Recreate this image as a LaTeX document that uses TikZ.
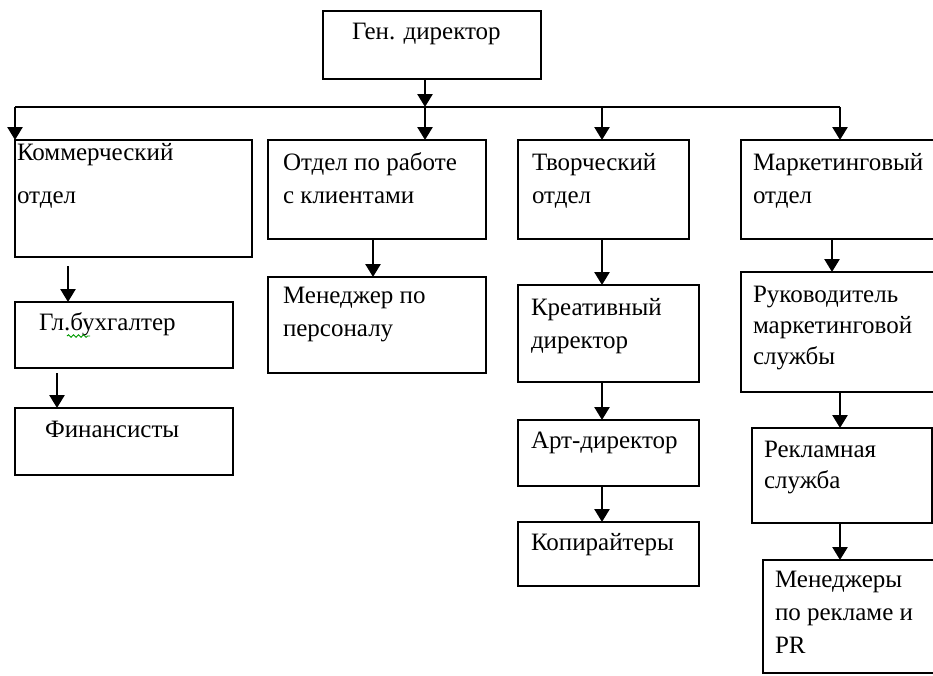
\documentclass[tikz,border=0pt]{standalone}
\usepackage{fontspec}
\setmainfont{Liberation Serif}
\usetikzlibrary{arrows.meta,decorations.pathmorphing}
\begin{document}
\begin{tikzpicture}[x=1pt,y=-1pt,
  box/.style={draw, line width=2.9pt, inner sep=0pt, outer sep=0pt, anchor=north west},
  txt/.style={inner sep=0pt, outer sep=0pt, anchor=north west, align=left, font=\fontsize{25}{33}\selectfont},
  txtn/.style={txt, font=\fontsize{25}{31}\selectfont},
  txtw/.style={txt, font=\fontsize{25}{43}\selectfont},
  conn/.style={line width=2.6pt, -{Triangle[width=15pt,length=13pt]}},
  bar/.style={line width=2.3pt}
]
\path[use as bounding box] (0,0) rectangle (933,675);
\clip (0,0) rectangle (933,675);

% boxes
\node[box, minimum width=218pt, minimum height=68pt]  (gen) at (323,11) {};
\node[box, minimum width=237pt, minimum height=117pt] (kom) at (15,140) {};
\node[box, minimum width=218pt, minimum height=99pt]  (otd) at (268,140) {};
\node[box, minimum width=171pt, minimum height=99pt]  (tvo) at (518,140) {};
\node[box, minimum width=200pt, minimum height=99pt]  (mar) at (741,140) {};
\node[box, minimum width=218pt, minimum height=66pt]  (buh) at (15,302) {};
\node[box, minimum width=218pt, minimum height=67pt]  (fin) at (15,408) {};
\node[box, minimum width=218pt, minimum height=96pt]  (men) at (268,277) {};
\node[box, minimum width=181pt, minimum height=97pt]  (kre) at (518,285) {};
\node[box, minimum width=181pt, minimum height=66pt]  (art) at (518,420) {};
\node[box, minimum width=181pt, minimum height=64pt]  (kop) at (518,522) {};
\node[box, minimum width=200pt, minimum height=120pt] (ruk) at (741,272) {};
\node[box, minimum width=180pt, minimum height=95pt]  (rek) at (752,428) {};
\node[box, minimum width=200pt, minimum height=113pt] (mpr) at (763,560) {};

% texts
\node[txt]  (tgen) at (352,15.9)  {\strut Ген. директор};
\node[txtw] (tkom) at (17,129.9)  {\strut Коммерческий\\отдел};
\node[txt]  (totd) at (283,146.9) {\strut Отдел по работе\\с клиентами};
\node[txt]  (ttvo) at (532,146.9) {\strut Творческий\\отдел};
\node[txt]  (tmar) at (753,146.9) {\strut Маркетинговый\\отдел};
\node[txt]  (tbuh) at (39,306.9)  {\strut Гл.бухгалтер};
\node[txt]  (tfin) at (45,413.9)  {\strut Финансисты};
\node[txt]  (tmen) at (283,279.9) {\strut Менеджер по\\персоналу};
\node[txt]  (tkre) at (531,291.9) {\strut Креативный\\директор};
\node[txt]  (tart) at (531,424.9) {\strut Арт-директор};
\node[txt]  (tkop) at (531,526.9) {\strut Копирайтеры};
\node[txtn] (truk) at (753,280.3) {\strut Руководитель\\маркетинговой\\службы};
\node[txtn] (trek) at (764,435.3) {\strut Рекламная\\служба};
\node[txt]  (tmpr) at (775,563.9) {\strut Менеджеры\\по рекламе и\\PR};

% spell-check squiggle
\draw[green!60!black, line width=0.9pt, decorate,
      decoration={snake, amplitude=1.3pt, segment length=5pt}] (67,336) -- (90,336);

% junction coordinates
\coordinate (j)  at (425,107);
\coordinate (jl) at (15,107);
\coordinate (jt) at (602,107);
\coordinate (jr) at (840,107);
\coordinate (xo) at (373,0);
\coordinate (xm) at (832,0);
\coordinate (kb) at (68,266);
\coordinate (bf) at (57,373);

% connectors
\draw[bar] (jl) -- (jr);
\draw[conn] (gen.south -| j) -- (j);
\draw[conn] (j) -- (otd.north -| j);
\draw[conn] (jl) -- (kom.north west);
\draw[conn] (jt) -- (tvo.north -| jt);
\draw[conn] (jr) -- (mar.north -| jr);
\draw[conn] (kb) -- (kb |- buh.north);
\draw[conn] (bf) -- (bf |- fin.north);
\draw[conn] (otd.south -| xo) -- (men.north -| xo);
\draw[conn] (tvo.south -| jt) -- (kre.north -| jt);
\draw[conn] (kre.south -| jt) -- (art.north -| jt);
\draw[conn] (art.south -| jt) -- (kop.north -| jt);
\draw[conn] (mar.south -| xm) -- (ruk.north -| xm);
\draw[conn] (ruk.south -| jr) -- (rek.north -| jr);
\draw[conn] (rek.south -| jr) -- (mpr.north -| jr);
\end{tikzpicture}
\end{document}
